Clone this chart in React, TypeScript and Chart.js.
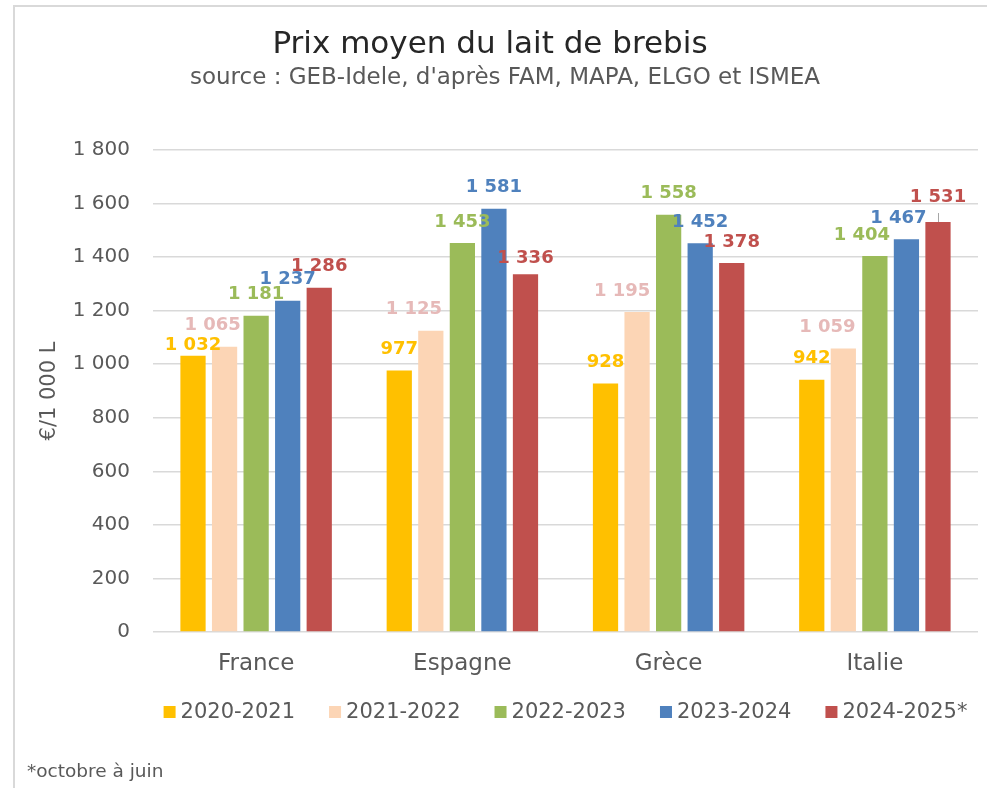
import React, { useEffect, useRef } from 'react';
import { Chart, registerables } from 'chart.js';

Chart.register(...registerables);

const categories = ['France', 'Espagne', 'Grèce', 'Italie'];
const seriesLabels = ['2020-2021', '2021-2022', '2022-2023', '2023-2024', '2024-2025*'];
const s2020_2021 = [1032, 977, 928, 942];
const s2021_2022 = [1065, 1125, 1195, 1059];
const s2022_2023 = [1181, 1453, 1558, 1404];
const s2023_2024 = [1237, 1581, 1452, 1467];
const s2024_2025 = [1286, 1336, 1378, 1531];
const yTickValues = [0, 200, 400, 600, 800, 1000, 1200, 1400, 1600, 1800];

const titleText = 'Prix moyen du lait de brebis';
const subtitleText = "source : GEB-Idele, d'après FAM, MAPA, ELGO et ISMEA";
const yTitleText = '€/1 000 L';
const footnoteText = '*octobre à juin';

const barColors = ['#FFC000', '#FCD5B5', '#9BBB59', '#4F81BD', '#C0504D'];
const labelColors = ['#FFC000', '#E6B9B8', '#9BBB59', '#4F81BD', '#C0504D'];

// Label nudges (dx, dy) keyed by "series-category", mimicking the manual label placement
const labelNudge: Record<string, [number, number]> = {
  '0-0': [0, 11],
  '1-0': [-12, 0],
  '1-1': [-17, 0],
  '1-2': [-15, 0],
  '1-3': [-16, 0],
  '2-3': [-13, 0],
  '3-3': [-8, 0],
  '4-1': [0, 5],
  '4-3': [0, -4],
};

const FONT = '"DejaVu Sans", sans-serif';
const GREY = '#595959';

function fmt(n: number): string {
  if (n >= 1000) {
    return `${Math.floor(n / 1000)} ${String(n % 1000).padStart(3, '0')}`;
  }
  return String(n);
}

const decorPlugin = {
  id: 'decor',
  afterDatasetsDraw(chart: any) {
    const ctx = chart.ctx as CanvasRenderingContext2D;
    ctx.save();
    ctx.font = `bold 18px ${FONT}`;
    ctx.textAlign = 'center';
    ctx.textBaseline = 'middle';
    chart.data.datasets.forEach((ds: any, i: number) => {
      const meta = chart.getDatasetMeta(i);
      meta.data.forEach((bar: any, j: number) => {
        const nudge = labelNudge[`${i}-${j}`] || [0, 0];
        const x = bar.x + nudge[0];
        const y = bar.y - 21 + nudge[1];
        if (i === 4 && j === 3) {
          ctx.strokeStyle = '#A6A6A6';
          ctx.lineWidth = 1;
          ctx.beginPath();
          ctx.moveTo(Math.round(bar.x) + 0.5, bar.y);
          ctx.lineTo(Math.round(bar.x) + 0.5, bar.y - 9);
          ctx.stroke();
        }
        ctx.fillStyle = labelColors[i];
        ctx.fillText(fmt(ds.data[j]), x, y);
      });
    });
    ctx.restore();
  },
  afterDraw(chart: any) {
    const ctx = chart.ctx as CanvasRenderingContext2D;
    const area = chart.chartArea;
    ctx.save();
    // Title
    ctx.textAlign = 'center';
    ctx.textBaseline = 'middle';
    ctx.fillStyle = '#262626';
    ctx.font = `31px ${FONT}`;
    ctx.fillText(titleText, 490, 45);
    ctx.fillStyle = GREY;
    ctx.font = `23px ${FONT}`;
    ctx.fillText(subtitleText, 505, 78);
    // Y title
    ctx.save();
    ctx.translate(50, (area.top + area.bottom) / 2);
    ctx.rotate(-Math.PI / 2);
    ctx.font = `21px ${FONT}`;
    ctx.fillStyle = GREY;
    ctx.fillText(yTitleText, 0, 0);
    ctx.restore();
    // Legend
    ctx.font = `21px ${FONT}`;
    ctx.textBaseline = 'middle';
    ctx.textAlign = 'left';
    const box = 12;
    const gap = 5;
    const spacing = 34;
    const widths = chart.data.datasets.map((ds: any) => box + gap + ctx.measureText(ds.label).width);
    const total = widths.reduce((a: number, b: number) => a + b, 0) + spacing * (widths.length - 1);
    let x = (area.left + area.right) / 2 - total / 2;
    const ly = 712;
    chart.data.datasets.forEach((ds: any, i: number) => {
      ctx.fillStyle = barColors[i];
      ctx.fillRect(x, ly - box / 2, box, box);
      ctx.fillStyle = GREY;
      ctx.fillText(ds.label, x + box + gap, ly + 1);
      x += widths[i] + spacing;
    });
    // Footnote
    ctx.font = `18.5px ${FONT}`;
    ctx.fillStyle = GREY;
    ctx.fillText(footnoteText, 27, 772);
    ctx.restore();
  },
};

export default function App() {
  const canvasRef = useRef<HTMLCanvasElement | null>(null);

  useEffect(() => {
    if (!canvasRef.current) return;
    const seriesValues = [s2020_2021, s2021_2022, s2022_2023, s2023_2024, s2024_2025];
    const chart = new Chart(canvasRef.current, {
      type: 'bar',
      data: {
        labels: categories,
        datasets: seriesLabels.map((label, i) => ({
          label,
          data: seriesValues[i],
          backgroundColor: barColors[i],
          borderWidth: 0,
          categoryPercentage: 0.765,
          barPercentage: 0.8,
        })),
      },
      options: {
        responsive: false,
        animation: false,
        layout: { padding: { top: 150, right: 9, bottom: 100, left: 0 } },
        plugins: {
          legend: { display: false },
          title: { display: false },
          tooltip: { enabled: false },
        },
        scales: {
          x: {
            grid: { display: false, drawTicks: false },
            border: { display: false },
            ticks: {
              color: GREY,
              font: { family: FONT, size: 23 },
              padding: 18,
            },
            afterFit(scale: any) {
              scale.height = 56;
            },
          },
          y: {
            min: 0,
            max: 1800,
            afterBuildTicks(scale: any) {
              scale.ticks = yTickValues.map((v) => ({ value: v }));
            },
            grid: { color: '#D9D9D9', lineWidth: 1.5, drawTicks: false },
            border: { display: false },
            ticks: {
              color: GREY,
              font: { family: FONT, size: 20 },
              padding: 23,
              callback: (v: any) => fmt(Number(v)),
            },
            afterFit(scale: any) {
              scale.width = 153;
            },
          },
        },
      },
      plugins: [decorPlugin],
    });
    return () => chart.destroy();
  }, []);

  return (
    <div style={{ position: 'absolute', left: 0, top: 0, width: 987, height: 788, overflow: 'hidden', background: '#fff' }}>
      <div
        style={{
          position: 'absolute',
          left: 13,
          top: 5,
          width: 974,
          height: 783,
          borderLeft: '2px solid #D9D9D9',
          borderTop: '2px solid #D9D9D9',
          boxSizing: 'border-box',
        }}
      />
      <canvas ref={canvasRef} width={987} height={788} style={{ position: 'absolute', left: 0, top: 0, display: 'block' }} />
    </div>
  );
}
